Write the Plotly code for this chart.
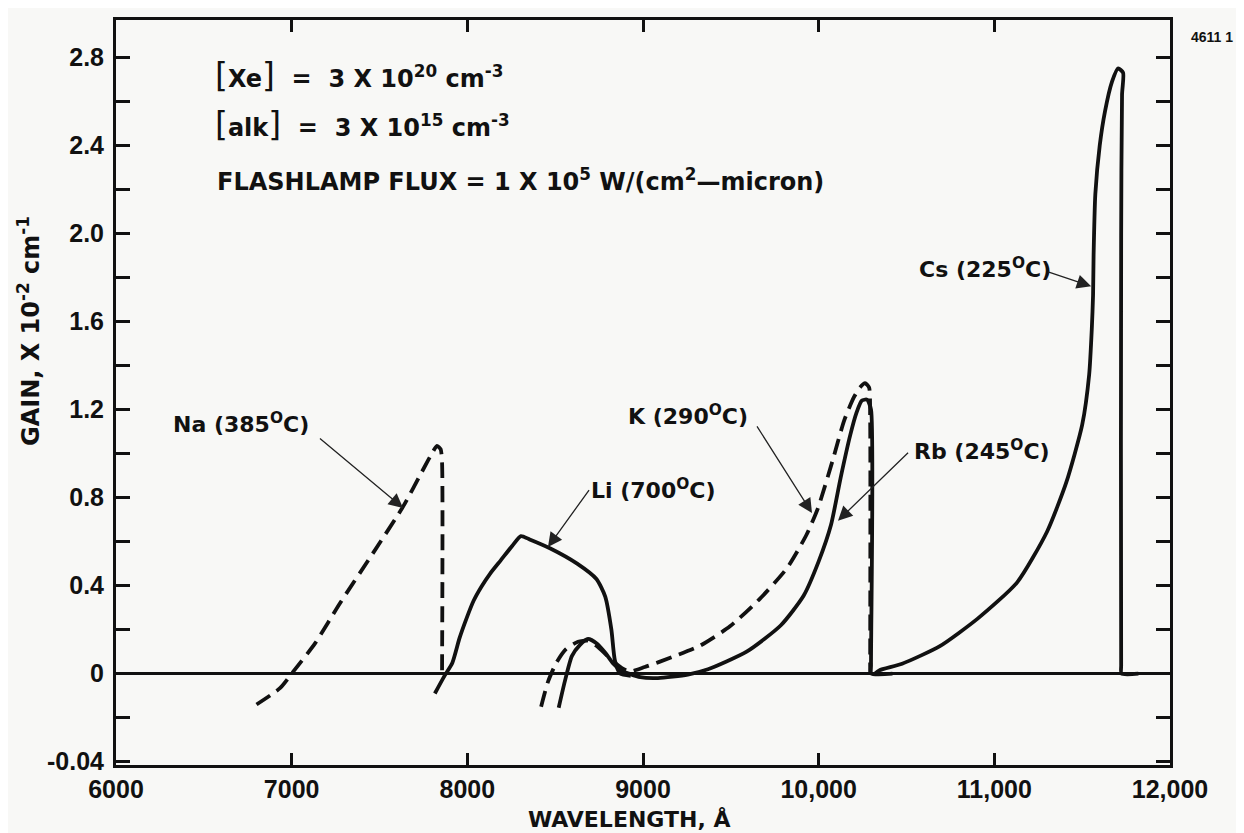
import plotly.graph_objects as go

# ---------------- data (wavelength in Angstrom, gain in 1e-2 cm^-1) ----------------
na_x = [6800, 6935, 7010, 7135, 7275, 7465, 7635, 7750, 7805, 7827, 7848, 7856, 7856]
na_y = [-0.14, -0.065, 0.01, 0.14, 0.32, 0.55, 0.76, 0.93, 1.01, 1.035, 1.02, 0.96, 0.0]

li_x = [7815, 7870, 7915, 7955, 7995, 8035, 8080, 8130, 8190, 8255, 8305, 8355, 8470, 8625,
        8735, 8785, 8820, 8840, 8870, 8930]
li_y = [-0.09, -0.01, 0.05, 0.16, 0.25, 0.33, 0.395, 0.455, 0.515, 0.58, 0.625, 0.61, 0.57,
        0.50, 0.43, 0.35, 0.20, 0.06, 0.0, -0.01]

k_x = [8420, 8460, 8505, 8560, 8630, 8687, 8745, 8825, 8880, 8925, 9010, 9165, 9320, 9495,
       9665, 9820, 9930, 9995, 10080, 10145, 10200, 10235, 10264, 10287, 10293, 10293]
k_y = [-0.15, -0.035, 0.047, 0.11, 0.145, 0.15, 0.12, 0.06, 0.025, 0.01, 0.03, 0.075, 0.125,
       0.215, 0.34, 0.48, 0.63, 0.75, 0.97, 1.15, 1.255, 1.30, 1.32, 1.30, 1.165, 0.0]

rb_x = [8520, 8555, 8595, 8640, 8687, 8740, 8785, 8830, 8875, 8985, 9085, 9255, 9370, 9590,
        9785, 9915, 10000, 10070, 10125, 10180, 10215, 10245, 10275, 10298, 10298, 10300, 10420]
rb_y = [-0.155, -0.035, 0.08, 0.13, 0.158, 0.135, 0.095, 0.046, 0.015, -0.016, -0.02, -0.004,
        0.02, 0.10, 0.22, 0.355, 0.51, 0.675, 0.89, 1.085, 1.185, 1.24, 1.245, 1.20, 0.04, 0.0, 0.0]

cs_x = [10320, 10345, 10475, 10690, 10905, 11130, 11300, 11410, 11500, 11540, 11555, 11562,
        11565, 11575, 11600, 11630, 11670, 11705, 11733, 11727, 11722, 11722, 11724, 11820]
cs_y = [0.0, 0.015, 0.045, 0.125, 0.25, 0.415, 0.645, 0.87, 1.13, 1.36, 1.57, 1.72, 1.90,
        2.18, 2.40, 2.555, 2.69, 2.75, 2.73, 2.63, 2.0, 0.04, 0.0, 0.0]

x_tickvals = [6000, 7000, 8000, 9000, 10000, 11000, 12000]
x_ticktext = ["6000", "7000", "8000", "9000", "10,000", "11,000", "12,000"]
y_tickvals = [-0.4, 0.0, 0.4, 0.8, 1.2, 1.6, 2.0, 2.4, 2.8]
y_ticktext = ["-0.04", "0", "0.4", "0.8", "1.2", "1.6", "2.0", "2.4", "2.8"]
y_minor_vals = [-0.2, 0.2, 0.6, 1.0, 1.4, 1.8, 2.2, 2.6]

# curve labels: (text, arrow tail x, tail y, arrow head x, head y)
labels = [
    ("Na (385<sup>O</sup>C)", 7144, 1.08, 7634, 0.753),
    ("Li (700<sup>O</sup>C)", 8710, 0.853, 8459, 0.575),
    ("K (290<sup>O</sup>C)", 9632, 1.145, 9962, 0.73),
    ("Rb (245<sup>O</sup>C)", 10526, 1.017, 10110, 0.695),
    ("Cs (225<sup>O</sup>C)", 11289, 1.83, 11551, 1.76),
]

# ---------------- figure ----------------
INK = "#111111"
BG = "#f8f8f6"
OFF = 8                      # default page margin of the html body
L, R, T, B = 116, 1170, 20, 765   # wanted plot area, in page pixels
W, H = 1244 - OFF, 833 - OFF


def pxx(x):
    return (x - L) / (R - L)


def pxy(y):
    return (B - y) / (B - T)


fig = go.Figure()
series = [
    (na_x, na_y, "16px,8px"),
    (li_x, li_y, "solid"),
    (k_x, k_y, "16px,8px"),
    (rb_x, rb_y, "solid"),
    (cs_x, cs_y, "solid"),
]
for xs, ys, dash in series:
    fig.add_trace(go.Scatter(x=xs, y=ys, mode="lines",
                             line=dict(color=INK, width=3.8, dash=dash, shape="spline", smoothing=0.6),
                             showlegend=False, hoverinfo="skip"))

tickfont_x = dict(family="Liberation Sans, Arial", size=25, color=INK, weight="bold")
tickfont_y = dict(family="Liberation Sans, Arial", size=25, color=INK, weight="bold")
lab_font = dict(family="DejaVu Sans", size=22, color=INK, weight="bold")

fig.update_layout(
    width=W, height=H,
    margin=dict(l=L - OFF, r=W - (R - OFF), t=T - OFF, b=H - (B - OFF), autoexpand=False),
    paper_bgcolor=BG, plot_bgcolor=BG,
    xaxis=dict(range=[6000, 12000], showgrid=False, zeroline=False,
               showline=True, linewidth=3, linecolor=INK, mirror="ticks",
               ticks="inside", ticklen=12, tickwidth=2.5, tickcolor=INK,
               tickvals=x_tickvals, ticktext=x_ticktext, tickfont=tickfont_x,
               ticklabelstandoff=0),
    yaxis=dict(range=[-0.415, 2.97], showgrid=False,
               zeroline=True, zerolinecolor=INK, zerolinewidth=2.5,
               showline=True, linewidth=3, linecolor=INK, mirror="ticks",
               ticks="inside", ticklen=14, tickwidth=2.5, tickcolor=INK,
               tickvals=y_tickvals, ticktext=y_ticktext, tickfont=tickfont_y,
               ticklabelstandoff=4,
               minor=dict(tickvals=y_minor_vals, ticks="inside", ticklen=14,
                          tickwidth=2.5, tickcolor=INK, showgrid=False)),
)

ann = []
label_pos = [(241, 423), (654, 489), (688, 415), (982, 450), (985, 268)]
for (txt, tx, ty, hx, hy), (lx, ly) in zip(labels, label_pos):
    ann.append(dict(xref="paper", yref="paper", x=pxx(lx), y=pxy(ly), text=txt,
                    showarrow=False, font=lab_font, xanchor="center", yanchor="middle"))
    ann.append(dict(xref="x", yref="y", axref="x", ayref="y", x=hx, y=hy, ax=tx, ay=ty,
                    text=" ", showarrow=True, arrowhead=2, arrowsize=2.2, arrowwidth=1.3,
                    arrowcolor="#222222", standoff=0, startstandoff=0))

big_l = "<span style='font-size:33px;font-weight:normal'>[</span>"
big_r = "<span style='font-size:33px;font-weight:normal'>]</span>"
block_font = dict(family="DejaVu Sans", size=24, color=INK, weight="bold")
ann.append(dict(xref="paper", yref="paper", x=pxx(213), y=pxy(76), xanchor="left", yanchor="middle",
                text=big_l + "Xe" + big_r + "  =  3 X 10<sup>20</sup> cm<sup>-3</sup>",
                showarrow=False, font=block_font))
ann.append(dict(xref="paper", yref="paper", x=pxx(213), y=pxy(124), xanchor="left", yanchor="middle",
                text=big_l + "alk" + big_r + "  =  3 X 10<sup>15</sup> cm<sup>-3</sup>",
                showarrow=False, font=block_font))
ann.append(dict(xref="paper", yref="paper", x=pxx(215), y=pxy(180), xanchor="left", yanchor="middle",
                text="FLASHLAMP FLUX = 1 X 10<sup>5</sup> W/(cm<sup>2</sup>\u2014micron)",
                showarrow=False, font=block_font))

# axis titles
ann.append(dict(xref="paper", yref="paper", x=pxx(629), y=pxy(819), xanchor="center", yanchor="middle",
                text="WAVELENGTH, \u00c5", showarrow=False,
                font=dict(family="DejaVu Sans", size=22, color=INK, weight="bold")))
ann.append(dict(xref="paper", yref="paper", x=pxx(29), y=pxy(331), xanchor="center", yanchor="middle",
                text="GAIN, X 10<sup>-2</sup> cm<sup>-1</sup>", textangle=-90, showarrow=False,
                font=dict(family="DejaVu Sans", size=24, color=INK, weight="bold")))
ann.append(dict(xref="paper", yref="paper", x=pxx(1212), y=pxy(37), xanchor="center", yanchor="middle",
                text="4611 1", showarrow=False,
                font=dict(family="Liberation Sans", size=14, color=INK, weight="bold")))

fig.update_layout(annotations=ann)
fig.write_html("out.html")
